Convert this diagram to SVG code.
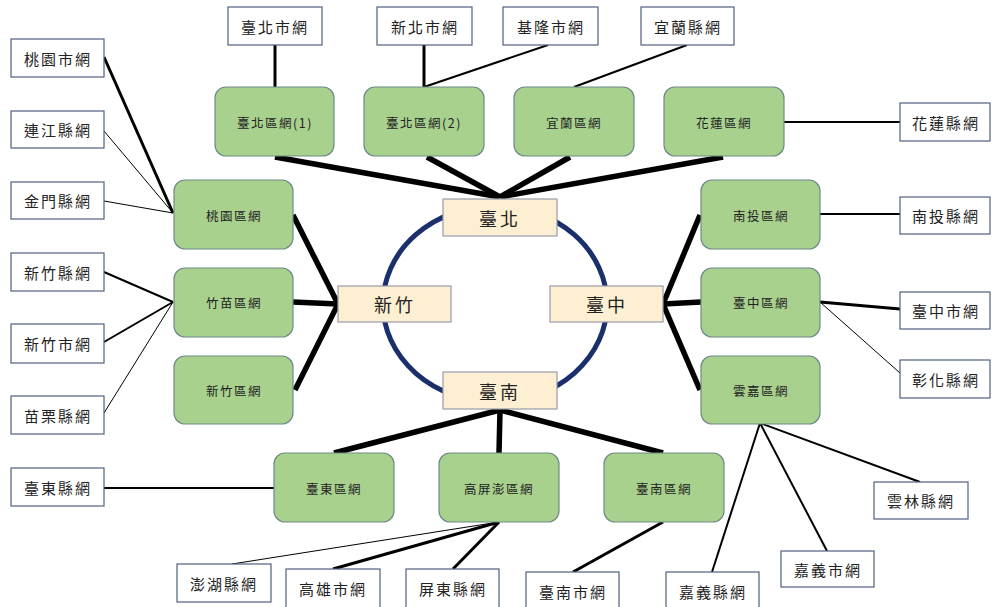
<svg xmlns="http://www.w3.org/2000/svg" width="992" height="607" viewBox="0 0 992 607">
<style>
.w rect{fill:#fff;stroke:#50607e;stroke-width:1.2}
.g rect{fill:#a9d18e;stroke:#6f8a86;stroke-width:1.2}
.h rect{fill:#fdf0d2;stroke:#9a9aa8;stroke-width:1.2}
text{font-family:"Noto Sans CJK TC","Noto Sans CJK SC",serif;fill:#222;text-anchor:middle;dominant-baseline:central}
.w text{font-size:15px;letter-spacing:2px}
.g text{font-size:12.5px;letter-spacing:1.5px}
.h text{font-size:18px;letter-spacing:3px}
#connectors line{stroke:#000;stroke-linecap:butt}
.t1{stroke-width:1}
.t2{stroke-width:2}
.t3{stroke-width:3}
.t5{stroke-width:5.5}
</style>
<rect width="992" height="607" fill="#fff"/>
<ellipse cx="495" cy="304" rx="112" ry="98" fill="none" stroke="#1a2f6b" stroke-width="5"/>
<g id="connectors">
<line class="t3" x1="275" y1="45" x2="275" y2="87"/>
<line class="t3" x1="424" y1="45" x2="424" y2="87"/>
<line class="t2" x1="548" y1="45" x2="424" y2="87"/>
<line class="t2" x1="687" y1="45" x2="574" y2="87"/>
<line class="t2" x1="784" y1="122" x2="900" y2="122"/>
<line class="t2" x1="820" y1="214" x2="900" y2="214"/>
<line class="t3" x1="820" y1="302" x2="900" y2="309"/>
<line class="t1" x1="820" y1="302" x2="900" y2="373"/>
<line class="t2" x1="760" y1="423" x2="920" y2="482"/>
<line class="t2" x1="760" y1="423" x2="827" y2="551"/>
<line class="t2" x1="760" y1="423" x2="712" y2="572"/>
<line class="t3" x1="663" y1="522" x2="573" y2="572"/>
<line class="t1" x1="499" y1="522" x2="232" y2="564"/>
<line class="t3" x1="499" y1="522" x2="333" y2="569"/>
<line class="t3" x1="499" y1="522" x2="453" y2="569"/>
<line class="t2" x1="274" y1="488" x2="104" y2="488"/>
<line class="t3" x1="173" y1="213" x2="104" y2="57"/>
<line class="t1" x1="173" y1="213" x2="104" y2="131"/>
<line class="t1" x1="173" y1="213" x2="104" y2="201"/>
<line class="t2" x1="173" y1="302" x2="104" y2="272"/>
<line class="t2" x1="173" y1="302" x2="104" y2="342"/>
<line class="t1" x1="173" y1="302" x2="104" y2="413"/>
<line class="t5" x1="500" y1="197" x2="275" y2="157"/>
<line class="t5" x1="500" y1="197" x2="427" y2="157"/>
<line class="t5" x1="500" y1="197" x2="570" y2="157"/>
<line class="t5" x1="500" y1="197" x2="723" y2="157"/>
<line class="t5" x1="338" y1="304" x2="293" y2="215"/>
<line class="t5" x1="338" y1="304" x2="293" y2="302"/>
<line class="t5" x1="338" y1="304" x2="295" y2="390"/>
<line class="t5" x1="663" y1="304" x2="700" y2="215"/>
<line class="t5" x1="663" y1="304" x2="701" y2="302"/>
<line class="t5" x1="663" y1="304" x2="700" y2="390"/>
<line class="t5" x1="500" y1="410" x2="334" y2="453"/>
<line class="t5" x1="500" y1="410" x2="499" y2="453"/>
<line class="t5" x1="500" y1="410" x2="663" y2="453"/>
</g>
<g id="hub-taipei" class="h"><rect x="443" y="199" width="114" height="37"/><text x="500" y="218">臺北</text></g>
<g id="hub-hsinchu" class="h"><rect x="338" y="286" width="113" height="36"/><text x="395" y="304">新竹</text></g>
<g id="hub-taichung" class="h"><rect x="550" y="286" width="113" height="36"/><text x="607" y="304">臺中</text></g>
<g id="hub-tainan" class="h"><rect x="443" y="372" width="114" height="37"/><text x="500" y="391">臺南</text></g>
<g id="rn-taipei1" class="g"><rect x="215" y="87" width="119" height="69" rx="11"/><text x="275" y="122">臺北區網(1)</text></g>
<g id="rn-taipei2" class="g"><rect x="364" y="87" width="120" height="69" rx="11"/><text x="424" y="122">臺北區網(2)</text></g>
<g id="rn-yilan" class="g"><rect x="514" y="87" width="120" height="69" rx="11"/><text x="574" y="122">宜蘭區網</text></g>
<g id="rn-hualien" class="g"><rect x="664" y="87" width="120" height="69" rx="11"/><text x="724" y="122">花蓮區網</text></g>
<g id="rn-taoyuan" class="g"><rect x="174" y="180" width="119" height="69" rx="11"/><text x="234" y="215">桃園區網</text></g>
<g id="rn-zhumiao" class="g"><rect x="174" y="268" width="119" height="69" rx="11"/><text x="234" y="302">竹苗區網</text></g>
<g id="rn-hsinchu" class="g"><rect x="174" y="356" width="119" height="68" rx="11"/><text x="234" y="390">新竹區網</text></g>
<g id="rn-nantou" class="g"><rect x="701" y="180" width="119" height="69" rx="11"/><text x="761" y="215">南投區網</text></g>
<g id="rn-taichung" class="g"><rect x="701" y="268" width="119" height="69" rx="11"/><text x="761" y="302">臺中區網</text></g>
<g id="rn-yunjia" class="g"><rect x="701" y="356" width="119" height="68" rx="11"/><text x="761" y="390">雲嘉區網</text></g>
<g id="rn-taitung" class="g"><rect x="274" y="453" width="120" height="69" rx="11"/><text x="334" y="488">臺東區網</text></g>
<g id="rn-gaopingpeng" class="g"><rect x="439" y="453" width="120" height="69" rx="11"/><text x="499" y="488">高屏澎區網</text></g>
<g id="rn-tainan" class="g"><rect x="604" y="453" width="120" height="69" rx="11"/><text x="664" y="488">臺南區網</text></g>
<g id="taipei-city" class="w"><rect x="228" y="7" width="94" height="38"/><text x="275" y="26">臺北市網</text></g>
<g id="newtaipei-city" class="w"><rect x="377" y="7" width="95" height="38"/><text x="425" y="26">新北市網</text></g>
<g id="keelung-city" class="w"><rect x="503" y="7" width="95" height="38"/><text x="551" y="26">基隆市網</text></g>
<g id="yilan-county" class="w"><rect x="641" y="7" width="93" height="38"/><text x="688" y="26">宜蘭縣網</text></g>
<g id="hualien-county" class="w"><rect x="900" y="103" width="90" height="38"/><text x="946" y="122">花蓮縣網</text></g>
<g id="nantou-county" class="w"><rect x="900" y="197" width="90" height="37"/><text x="946" y="215">南投縣網</text></g>
<g id="taichung-city" class="w"><rect x="900" y="292" width="90" height="37"/><text x="946" y="310">臺中市網</text></g>
<g id="changhua-county" class="w"><rect x="900" y="360" width="90" height="38"/><text x="946" y="379">彰化縣網</text></g>
<g id="yunlin-county" class="w"><rect x="874" y="482" width="94" height="37"/><text x="921" y="500">雲林縣網</text></g>
<g id="chiayi-city" class="w"><rect x="781" y="551" width="93" height="36"/><text x="828" y="569">嘉義市網</text></g>
<g id="chiayi-county" class="w"><rect x="666" y="572" width="93" height="40"/><text x="713" y="591">嘉義縣網</text></g>
<g id="tainan-city" class="w"><rect x="526" y="572" width="93" height="40"/><text x="573" y="591">臺南市網</text></g>
<g id="pingtung-county" class="w"><rect x="406" y="569" width="93" height="40"/><text x="453" y="588">屏東縣網</text></g>
<g id="kaohsiung-city" class="w"><rect x="286" y="569" width="94" height="40"/><text x="333" y="588">高雄市網</text></g>
<g id="penghu-county" class="w"><rect x="177" y="564" width="94" height="38"/><text x="224" y="583">澎湖縣網</text></g>
<g id="taoyuan-city" class="w"><rect x="11" y="39" width="93" height="38"/><text x="58" y="58">桃園市網</text></g>
<g id="lienchiang-county" class="w"><rect x="11" y="111" width="93" height="37"/><text x="58" y="129">連江縣網</text></g>
<g id="kinmen-county" class="w"><rect x="11" y="182" width="93" height="37"/><text x="58" y="200">金門縣網</text></g>
<g id="hsinchu-county" class="w"><rect x="11" y="253" width="93" height="38"/><text x="58" y="272">新竹縣網</text></g>
<g id="hsinchu-city" class="w"><rect x="11" y="324" width="93" height="39"/><text x="58" y="343">新竹市網</text></g>
<g id="miaoli-county" class="w"><rect x="11" y="396" width="93" height="38"/><text x="58" y="415">苗栗縣網</text></g>
<g id="taitung-county" class="w"><rect x="11" y="468" width="93" height="38"/><text x="58" y="487">臺東縣網</text></g>
</svg>
